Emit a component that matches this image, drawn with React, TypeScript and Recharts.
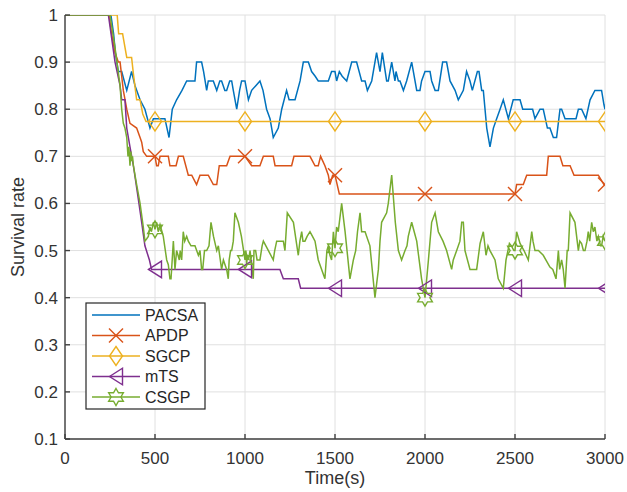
import React from 'react';
import { LineChart, Line, XAxis, YAxis, CartesianGrid } from 'recharts';

type Pt = [number, number];

const X_TICKS = [0, 500, 1000, 1500, 2000, 2500, 3000];
const Y_TICKS = [0.1, 0.2, 0.3, 0.4, 0.5, 0.6, 0.7, 0.8, 0.9, 1];
const MARKER_TIMES = [500, 1000, 1500, 2000, 2500, 3000];

const PACSA: Pt[] = [
  [0, 1], [255, 1], [270, 0.96], [280, 0.92], [296, 0.88], [315, 0.88], [343, 0.84], [370, 0.88], [389, 0.85],
  [417, 0.82], [444, 0.8], [472, 0.76], [491, 0.78], [500, 0.78], [537, 0.78], [555, 0.78], [578, 0.74], [596, 0.8],
  [620, 0.82], [650, 0.84], [676, 0.86], [722, 0.86], [731, 0.9], [759, 0.9], [770, 0.88], [787, 0.84], [796, 0.86],
  [824, 0.86], [843, 0.84], [860, 0.86], [870, 0.86], [888, 0.84], [898, 0.84], [915, 0.86], [926, 0.86], [935, 0.84],
  [954, 0.8], [970, 0.84], [981, 0.86], [1000, 0.86], [1019, 0.82], [1037, 0.84], [1060, 0.85], [1083, 0.86],
  [1100, 0.84], [1120, 0.8], [1139, 0.78], [1157, 0.74], [1185, 0.76], [1204, 0.8], [1231, 0.84], [1245, 0.82],
  [1278, 0.82], [1306, 0.86], [1324, 0.9], [1352, 0.9], [1370, 0.88], [1390, 0.87], [1407, 0.86], [1463, 0.86],
  [1481, 0.88], [1500, 0.88], [1509, 0.86], [1524, 0.88], [1540, 0.87], [1565, 0.86], [1593, 0.9], [1620, 0.9],
  [1648, 0.86], [1667, 0.86], [1680, 0.84], [1704, 0.86], [1731, 0.92], [1750, 0.88], [1763, 0.92], [1787, 0.86],
  [1796, 0.86], [1815, 0.9], [1833, 0.86], [1839, 0.88], [1852, 0.86], [1861, 0.86], [1880, 0.84], [1898, 0.86],
  [1926, 0.9], [1954, 0.84], [1972, 0.84], [1981, 0.86], [2000, 0.88], [2028, 0.88], [2037, 0.86], [2056, 0.84],
  [2074, 0.84], [2098, 0.9], [2120, 0.9], [2139, 0.86], [2167, 0.84], [2185, 0.82], [2213, 0.84], [2231, 0.88],
  [2250, 0.86], [2263, 0.84], [2291, 0.88], [2300, 0.88], [2315, 0.84], [2324, 0.84], [2343, 0.76], [2361, 0.72],
  [2380, 0.76], [2398, 0.78], [2417, 0.8], [2435, 0.82], [2463, 0.78], [2490, 0.82], [2528, 0.82], [2543, 0.8],
  [2598, 0.8], [2611, 0.78], [2639, 0.8], [2657, 0.8], [2680, 0.76], [2694, 0.76], [2713, 0.74], [2731, 0.74],
  [2750, 0.8], [2759, 0.8], [2778, 0.78], [2839, 0.78], [2852, 0.8], [2870, 0.8], [2894, 0.78], [2917, 0.82],
  [2944, 0.84], [2981, 0.84], [2994, 0.81], [3000, 0.8],
];

const APDP: Pt[] = [
  [0, 1], [245, 1], [259, 0.96], [278, 0.92], [296, 0.9], [306, 0.9], [315, 0.87], [324, 0.84], [343, 0.8],
  [361, 0.77], [398, 0.76], [417, 0.74], [426, 0.73], [435, 0.71], [454, 0.7], [500, 0.7], [509, 0.68], [518, 0.68],
  [528, 0.7], [574, 0.7], [583, 0.68], [617, 0.68], [630, 0.7], [657, 0.7], [685, 0.66], [704, 0.66], [731, 0.64],
  [750, 0.66], [796, 0.66], [824, 0.64], [843, 0.64], [857, 0.68], [898, 0.68], [917, 0.7], [1000, 0.7],
  [1037, 0.68], [1083, 0.68], [1102, 0.7], [1157, 0.7], [1167, 0.68], [1259, 0.68], [1272, 0.7], [1361, 0.7],
  [1389, 0.68], [1407, 0.68], [1420, 0.7], [1444, 0.68], [1463, 0.66], [1472, 0.64], [1487, 0.66], [1500, 0.66],
  [1524, 0.62], [2000, 0.62], [2500, 0.62], [2509, 0.64], [2546, 0.64], [2565, 0.66], [2676, 0.66], [2685, 0.7],
  [2750, 0.7], [2766, 0.68], [2806, 0.68], [2828, 0.66], [2963, 0.66], [2994, 0.64], [3000, 0.64],
];

const SGCP: Pt[] = [
  [0, 1], [290, 1], [298, 0.96], [320, 0.96], [343, 0.91], [370, 0.91], [380, 0.875], [398, 0.82], [417, 0.82],
  [432, 0.79], [450, 0.774], [500, 0.774], [1000, 0.774], [1500, 0.774], [2000, 0.774], [2500, 0.774], [3000, 0.774],
];

const MTS: Pt[] = [
  [0, 1], [241, 1], [278, 0.9], [306, 0.85], [315, 0.82], [333, 0.82], [343, 0.76], [361, 0.72], [380, 0.68],
  [407, 0.61], [426, 0.56], [444, 0.51], [469, 0.48], [481, 0.46], [500, 0.46], [1000, 0.46], [1194, 0.46],
  [1213, 0.44], [1296, 0.44], [1309, 0.42], [1500, 0.42], [2000, 0.42], [2500, 0.42], [3000, 0.42],
];

const CSGP: Pt[] = [
  [0, 1], [250, 1], [278, 0.93], [306, 0.85], [315, 0.8], [324, 0.77], [333, 0.76], [343, 0.74], [350, 0.7],
  [355, 0.72], [361, 0.68], [366, 0.71], [370, 0.69], [375, 0.7], [380, 0.68], [398, 0.64], [417, 0.6], [435, 0.55],
  [444, 0.52], [454, 0.525], [463, 0.53], [472, 0.55], [480, 0.54], [491, 0.56], [500, 0.545], [509, 0.56],
  [518, 0.54], [528, 0.555], [546, 0.53], [565, 0.48], [574, 0.47], [583, 0.44], [589, 0.44], [602, 0.52],
  [611, 0.46], [620, 0.5], [628, 0.49], [635, 0.48], [640, 0.5], [648, 0.48], [657, 0.54], [665, 0.52], [676, 0.53],
  [685, 0.52], [700, 0.51], [722, 0.51], [741, 0.49], [750, 0.5], [759, 0.46], [765, 0.46], [775, 0.5], [787, 0.5],
  [800, 0.51], [811, 0.56], [825, 0.53], [843, 0.5], [852, 0.51], [870, 0.46], [880, 0.48], [889, 0.47], [898, 0.46],
  [907, 0.44], [912, 0.48], [920, 0.5], [926, 0.5], [935, 0.52], [944, 0.58], [963, 0.56], [980, 0.53], [1000, 0.48],
  [1005, 0.5], [1009, 0.47], [1013, 0.49], [1020, 0.48], [1028, 0.5], [1037, 0.47], [1046, 0.44], [1050, 0.5],
  [1059, 0.5], [1067, 0.48], [1083, 0.48], [1095, 0.51], [1102, 0.52], [1130, 0.5], [1157, 0.48], [1165, 0.5],
  [1176, 0.52], [1213, 0.52], [1222, 0.5], [1235, 0.58], [1269, 0.56], [1296, 0.49], [1305, 0.52], [1315, 0.54],
  [1322, 0.52], [1333, 0.52], [1345, 0.53], [1361, 0.54], [1375, 0.53], [1389, 0.52], [1407, 0.48], [1444, 0.44],
  [1455, 0.5], [1463, 0.51], [1472, 0.49], [1481, 0.48], [1491, 0.54], [1500, 0.505], [1509, 0.55], [1518, 0.54],
  [1537, 0.6], [1556, 0.54], [1583, 0.44], [1602, 0.48], [1615, 0.5], [1625, 0.54], [1639, 0.58], [1648, 0.54],
  [1667, 0.54], [1694, 0.51], [1722, 0.4], [1741, 0.46], [1750, 0.52], [1759, 0.56], [1787, 0.58], [1796, 0.6],
  [1815, 0.66], [1835, 0.56], [1852, 0.5], [1870, 0.48], [1889, 0.5], [1900, 0.51], [1907, 0.53], [1926, 0.56],
  [1940, 0.54], [1954, 0.52], [1981, 0.44], [2000, 0.4], [2019, 0.48], [2037, 0.56], [2056, 0.58], [2074, 0.54],
  [2100, 0.52], [2120, 0.5], [2148, 0.46], [2157, 0.48], [2176, 0.5], [2194, 0.52], [2204, 0.56], [2213, 0.56],
  [2222, 0.5], [2250, 0.46], [2287, 0.46], [2306, 0.515], [2324, 0.54], [2339, 0.49], [2350, 0.51], [2361, 0.5],
  [2389, 0.48], [2407, 0.44], [2435, 0.42], [2450, 0.48], [2469, 0.515], [2480, 0.51], [2494, 0.5], [2500, 0.5],
  [2509, 0.54], [2528, 0.515], [2550, 0.5], [2574, 0.48], [2593, 0.54], [2600, 0.52], [2611, 0.5], [2630, 0.5],
  [2657, 0.49], [2694, 0.465], [2710, 0.46], [2728, 0.44], [2741, 0.5], [2748, 0.46], [2759, 0.48], [2768, 0.46],
  [2778, 0.42], [2790, 0.5], [2796, 0.5], [2806, 0.58], [2833, 0.56], [2852, 0.5], [2860, 0.52], [2870, 0.515],
  [2880, 0.5], [2889, 0.5], [2900, 0.52], [2907, 0.54], [2915, 0.52], [2926, 0.56], [2935, 0.54], [2944, 0.55],
  [2955, 0.52], [2963, 0.53], [2975, 0.51], [2981, 0.51], [2990, 0.53], [3000, 0.52],
];

type MarkerKind = 'none' | 'x' | 'diamond' | 'tri' | 'hex';

const SERIES: { name: string; points: Pt[]; color: string; marker: MarkerKind }[] = [
  { name: 'PACSA', points: PACSA, color: '#0072BD', marker: 'none' },
  { name: 'APDP', points: APDP, color: '#D95319', marker: 'x' },
  { name: 'SGCP', points: SGCP, color: '#EDB120', marker: 'diamond' },
  { name: 'mTS', points: MTS, color: '#7E2F8E', marker: 'tri' },
  { name: 'CSGP', points: CSGP, color: '#77AC30', marker: 'hex' },
];

const FONT = '"Liberation Sans", Arial, Helvetica, sans-serif';
const AXIS_COLOR = '#404040';
const TEXT_COLOR = '#333333';
const LINE_W = 1.5;

function MarkerShape({ kind, cx, cy, color }: { kind: MarkerKind; cx: number; cy: number; color: string }) {
  const common = { fill: 'none', stroke: color, strokeWidth: 1.4 };
  if (kind === 'x') {
    const r = 7;
    return (
      <g>
        <line x1={cx - r} y1={cy - r} x2={cx + r} y2={cy + r} {...common} />
        <line x1={cx - r} y1={cy + r} x2={cx + r} y2={cy - r} {...common} />
      </g>
    );
  }
  if (kind === 'diamond') {
    const w = 6.5, h = 9.5;
    return <polygon points={`${cx},${cy - h} ${cx + w},${cy} ${cx},${cy + h} ${cx - w},${cy}`} {...common} />;
  }
  if (kind === 'tri') {
    const w = 6.5, h = 8.3;
    return <polygon points={`${cx - w},${cy} ${cx + w},${cy - h} ${cx + w},${cy + h}`} {...common} />;
  }
  if (kind === 'hex') {
    const R = 8.5, r = 8.5 / Math.sqrt(3);
    const pts: string[] = [];
    for (let i = 0; i < 12; i++) {
      const a = (-90 + i * 30) * Math.PI / 180;
      const rad = i % 2 === 0 ? R : r;
      pts.push(`${cx + rad * Math.cos(a)},${cy + rad * Math.sin(a)}`);
    }
    return <polygon points={pts.join(' ')} {...common} />;
  }
  return null;
}

const makeDot = (kind: MarkerKind, color: string) => (props: any) => {
  const { cx, cy, payload, index } = props;
  if (kind === 'none' || !payload || !MARKER_TIMES.includes(payload.t)) return <g key={`d${index}`} />;
  return (
    <g key={`d${index}`}>
      <MarkerShape kind={kind} cx={cx} cy={cy} color={color} />
    </g>
  );
};

const fmtY = (v: number) => (v === 1 ? '1' : v.toFixed(1));

export default function App() {
  return (
    <div style={{ position: 'absolute', left: 0, top: 0, width: 627, height: 492, background: '#fff', fontFamily: FONT }}>
      <LineChart width={627} height={492} margin={{ top: 15, right: 22, bottom: 0, left: 15 }}>
        <CartesianGrid stroke="#e0e0e0" strokeWidth={1} />
        {SERIES.map((s) => (
          <Line
            key={s.name}
            data={s.points.map(([t, v]) => ({ t, v }))}
            dataKey="v"
            name={s.name}
            type="linear"
            stroke={s.color}
            strokeWidth={LINE_W}
            dot={makeDot(s.marker, s.color)}
            activeDot={false}
            isAnimationActive={false}
          />
        ))}
        <XAxis
          dataKey="t"
          type="number"
          domain={[0, 3000]}
          ticks={X_TICKS}
          allowDataOverflow
          height={53}
          tickSize={-5}
          tickMargin={18}
          stroke={AXIS_COLOR}
          strokeWidth={1.4}
          tick={{ fill: TEXT_COLOR, fontSize: 17, fontFamily: FONT }}
          label={{
            content: () => (
              <text x={335} y={484} textAnchor="middle" fill={TEXT_COLOR} fontSize={18} fontFamily={FONT}>
                Time(s)
              </text>
            ),
          }}
        />
        <YAxis
          type="number"
          domain={[0.1, 1]}
          ticks={Y_TICKS}
          allowDataOverflow
          width={50}
          tickSize={-5}
          tickMargin={12}
          tickFormatter={fmtY}
          stroke={AXIS_COLOR}
          strokeWidth={1.4}
          tick={{ fill: TEXT_COLOR, fontSize: 17, fontFamily: FONT }}
          label={{
            content: () => (
              <text x={24} y={227} transform="rotate(-90 24 227)" textAnchor="middle" fill={TEXT_COLOR} fontSize={18} fontFamily={FONT}>
                Survival rate
              </text>
            ),
          }}
        />
        <XAxis
          xAxisId="top"
          orientation="top"
          type="number"
          domain={[0, 3000]}
          ticks={X_TICKS}
          allowDataOverflow
          height={0}
          tickSize={-5}
          tick={false}
          stroke={AXIS_COLOR}
          strokeWidth={1.4}
        />
        <YAxis
          yAxisId="right"
          orientation="right"
          type="number"
          domain={[0.1, 1]}
          ticks={Y_TICKS}
          allowDataOverflow
          width={0}
          tickSize={-5}
          tick={false}
          stroke={AXIS_COLOR}
          strokeWidth={1.4}
        />
      </LineChart>
      <svg width={627} height={492} style={{ position: 'absolute', left: 0, top: 0, pointerEvents: 'none' }}>
        <rect x={86} y={303} width={119} height={106} fill="#fff" stroke="#262626" strokeWidth={1.2} />
        {SERIES.map((s, i) => {
          const y = 315 + i * 20.5;
          return (
            <g key={s.name}>
              <line x1={92} x2={140} y1={y} y2={y} stroke={s.color} strokeWidth={LINE_W} />
              <MarkerShape kind={s.marker} cx={116} cy={y} color={s.color} />
              <text x={145} y={y} dy="0.36em" fill="#262626" fontSize={16} fontFamily={FONT}>
                {s.name}
              </text>
            </g>
          );
        })}
      </svg>
    </div>
  );
}
